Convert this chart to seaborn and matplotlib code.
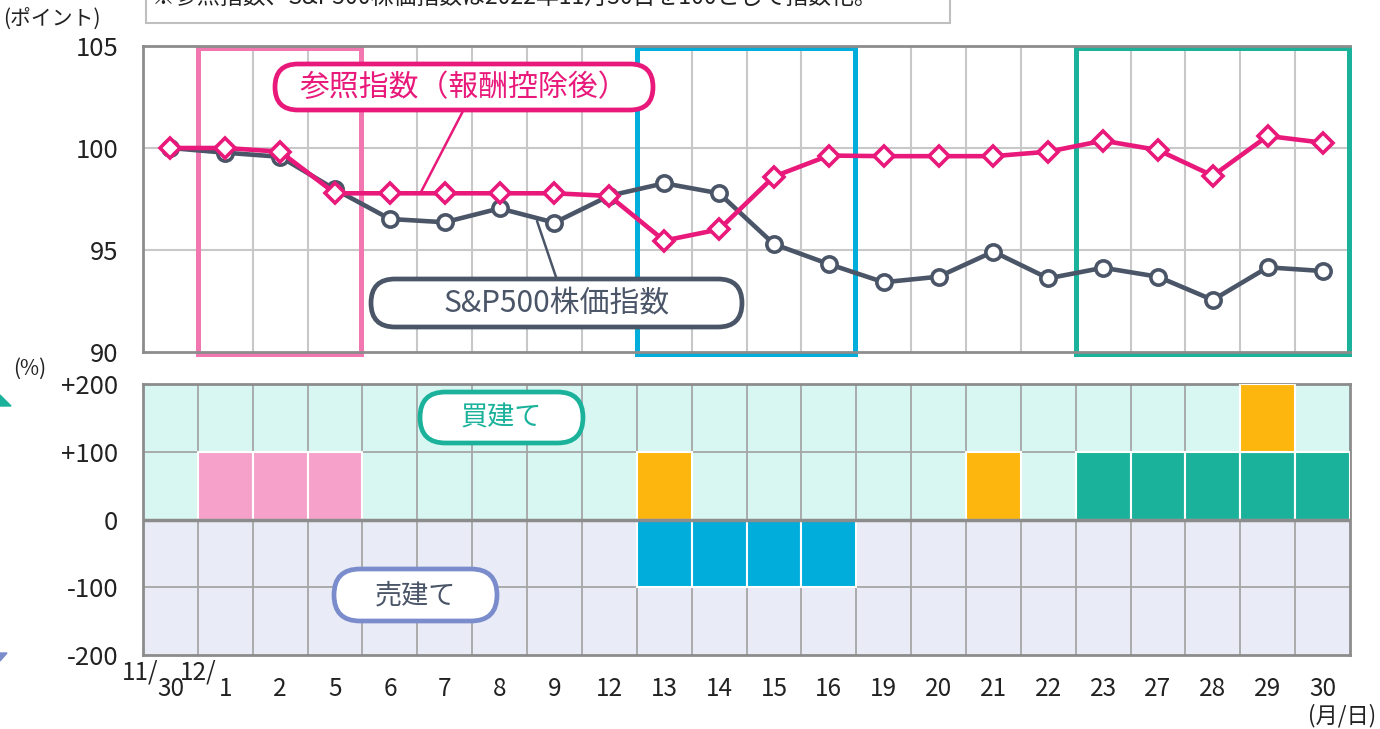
import numpy as np
import pandas as pd
import matplotlib
matplotlib.use("Agg")
import matplotlib.pyplot as plt
import seaborn as sns
from matplotlib.patches import FancyBboxPatch, Rectangle, Polygon

# ---------------- data ----------------
days = ['11/30', '12/1', '2', '5', '6', '7', '8', '9', '12', '13', '14', '15', '16',
        '19', '20', '21', '22', '23', '27', '28', '29', '30']
tick_labels = ['30', '1', '2', '5', '6', '7', '8', '9', '12', '13', '14', '15', '16',
               '19', '20', '21', '22', '23', '27', '28', '29', '30']
ref_index = [100.0, 100.0, 99.82, 97.78, 97.78, 97.78, 97.78, 97.78, 97.65, 95.46, 96.01,
             98.60, 99.63, 99.60, 99.60, 99.60, 99.82, 100.36, 99.90, 98.64, 100.59, 100.26]
sp500 = [100.0, 99.77, 99.57, 97.97, 96.52, 96.36, 97.04, 96.34, 97.66, 98.27, 97.78,
         95.29, 94.31, 93.42, 93.69, 94.92, 93.61, 94.13, 93.69, 92.55, 94.15, 93.97]
buy_pct = [0, 100, 100, 100, 0, 0, 0, 0, 0, 100, 0, 0, 0, 0, 0, 100, 0, 100, 100, 100, 200, 100]
sell_pct = [0, 0, 0, 0, 0, 0, 0, 0, 0, -100, -100, -100, -100, 0, 0, 0, 0, 0, 0, 0, 0, 0]
buy_unit1_group = ['', 'pink', 'pink', 'pink', '', '', '', '', '', 'orange', '', '', '', '', '',
                   'orange', '', 'teal', 'teal', 'teal', 'teal', 'teal']
buy_unit2_group = [''] * 20 + ['orange', '']
sell_group = ['blue' if v < 0 else '' for v in sell_pct]
periods = [(1, 3, 'frame_pink'), (9, 12, 'frame_blue'), (17, 21, 'frame_teal')]

label_ref = '参照指数（報酬控除後）'
label_sp = 'S&P500株価指数'
note = '※参照指数、S&P500株価指数は2022年11月30日を100として指数化。'

palette = {
    'pink': '#F6A1CA', 'orange': '#FDB60D', 'teal': '#1BB29C', 'blue': '#00ADDB',
    'frame_pink': '#F277B1', 'frame_blue': '#00ADDB', 'frame_teal': '#1BB29C',
}
PINK_LINE = '#E8197A'
GRAY_LINE = '#4B5568'
SELL_EDGE = '#7A8CCB'

# ---------------- style ----------------
sns.set_theme(style='white')
plt.rcParams['font.family'] = ['Noto Sans CJK JP', 'DejaVu Sans']
plt.rcParams['axes.unicode_minus'] = False
TXT = '#222222'

W, H = 1380, 729
fig = plt.figure(figsize=(W / 100, H / 100), dpi=100)


def frac(x0, y0, x1, y1):
    return [x0 / W, 1 - y1 / H, (x1 - x0) / W, (y1 - y0) / H]


ax1 = fig.add_axes(frac(143, 46, 1350, 352))
ax2 = fig.add_axes(frac(143, 384, 1350, 655))

x = np.arange(len(days))
df = pd.DataFrame({'x': x, 'ref': ref_index, 'sp': sp500})

# ---------------- top panel ----------------
for b in np.arange(0.5, len(days) - 0.5, 1):
    ax1.axvline(b, color='#C8C8C8', lw=1.5, zorder=0.5)
for yv in (95, 100):
    ax1.axhline(yv, color='#C8C8C8', lw=1.5, zorder=0.5)

for i0, i1, key in periods:
    ax1.add_patch(Rectangle((i0 - 0.5, 89.9), (i1 - i0) + 0.98, 15.0, fill=False,
                            edgecolor=palette[key], lw=3.6, zorder=2, clip_on=False))

sns.lineplot(data=df, x='x', y='sp', ax=ax1, color=GRAY_LINE, lw=3.3, marker='o',
             markersize=11, markerfacecolor='white', markeredgecolor=GRAY_LINE,
             markeredgewidth=2.6, zorder=3)
sns.lineplot(data=df, x='x', y='ref', ax=ax1, color=PINK_LINE, lw=3.3, marker='D',
             markersize=10.5, markerfacecolor='white', markeredgecolor=PINK_LINE,
             markeredgewidth=2.6, zorder=4)

ax1.set_xlim(-0.5, len(days) - 0.5)
ax1.set_ylim(90, 105)
ax1.set_yticks([90, 95, 100, 105])
ax1.set_yticklabels(['90', '95', '100', '105'])
ax1.set_xticks([])
ax1.set_xlabel('')
ax1.set_ylabel('')
ax1.tick_params(axis='y', length=0, pad=18, labelsize=18.5, labelcolor=TXT)
for s in ax1.spines.values():
    s.set_color('#8C8C8C')
    s.set_linewidth(2)
ax1.spines['right'].set_visible(False)

# ---------------- bottom panel ----------------
ax2.axhspan(0, 200, color='#D9F7F2', zorder=0)
ax2.axhspan(-200, 0, color='#E9ECF6', zorder=0)
for b in np.arange(0.5, len(days) - 0.5, 1):
    ax2.axvline(b, color='#A6A6A6', lw=1.3, zorder=1)
for yv in (100, -100):
    ax2.axhline(yv, color='#A6A6A6', lw=1.3, zorder=1)

for k, groups in ((1, buy_unit1_group), (2, buy_unit2_group)):
    idx = [i for i in range(len(days)) if buy_pct[i] >= 100 * k]
    ax2.bar(idx, [100] * len(idx), bottom=100 * (k - 1), width=1.0,
            color=[palette[groups[i]] for i in idx], edgecolor='white', lw=1.5, zorder=3)
idx = [i for i in range(len(days)) if sell_pct[i] < 0]
ax2.bar(idx, [sell_pct[i] for i in idx], width=1.0,
        color=[palette[sell_group[i]] for i in idx], edgecolor='white', lw=1.5, zorder=3)
ax2.axhline(0, color='#8C8C8C', lw=2.5, zorder=4)

ax2.set_xlim(-0.5, len(days) - 0.5)
ax2.set_ylim(-200, 200)
ax2.set_yticks([-200, -100, 0, 100, 200])
ax2.set_yticklabels(['-200', '-100', '0', '+100', '+200'])
ax2.set_xticks(x)
ax2.set_xticklabels(tick_labels)
ax2.tick_params(axis='y', length=0, pad=18, labelsize=18.5, labelcolor=TXT)
ax2.tick_params(axis='x', length=0, pad=15, labelsize=17.5, labelcolor=TXT)
for s in ax2.spines.values():
    s.set_color('#8C8C8C')
    s.set_linewidth(2)
    s.set_zorder(2.5)

# ---------------- overlay (annotations, pixel coords) ----------------
ov = fig.add_axes([0, 0, 1, 1], zorder=10)
ov.set_xlim(0, W)
ov.set_ylim(H, 0)
ov.axis('off')
ov.patch.set_alpha(0)


def pill(x0, y0, x1, y1, edge, text, tcolor, fs):
    h = y1 - y0
    ov.add_patch(FancyBboxPatch((x0, y0), x1 - x0, h,
                                boxstyle=f'round,pad=0,rounding_size={h / 2}',
                                facecolor='white', edgecolor=edge, lw=3.4))
    ov.text((x0 + x1) / 2, (y0 + y1) / 2 + 1, text, color=tcolor, fontsize=fs,
            ha='center', va='center')


ov.plot([463, 421], [111, 192], color=PINK_LINE, lw=1.8)
ov.plot([537, 556], [221, 277], color=GRAY_LINE, lw=1.8)
pill(275, 64, 653, 110, PINK_LINE, label_ref, PINK_LINE, 21.5)
pill(371, 279, 742, 327, GRAY_LINE, label_sp, GRAY_LINE, 21.5)
pill(420, 392, 583, 443, palette['teal'], '買建て', palette['teal'], 19.5)
pill(334, 569, 497, 621, SELL_EDGE, '売建て', GRAY_LINE, 19.5)

# note box at top (partly cut off, as in the reference)
ov.add_patch(Rectangle((146, -20), 804, 43, facecolor='white', edgecolor='#BFBFBF', lw=1.5))
ov.text(152, -3, note, fontsize=16.5, color=TXT, ha='left', va='center')

ov.text(52, 20, '(ポイント)', fontsize=15, color=TXT, ha='center', va='center')
ov.text(30, 369, '(%)', fontsize=15, color=TXT, ha='center', va='center')
ov.text(1342, 716, '(月/日)', fontsize=16, color=TXT, ha='center', va='center')
ov.text(158, 673, '11/', fontsize=17.5, color=TXT, ha='right', va='center')
ov.text(217, 673, '12/', fontsize=17.5, color=TXT, ha='right', va='center')

ov.add_patch(Polygon([(0, 395), (11, 406), (0, 406)], closed=True, color=palette['teal']))
ov.add_patch(Polygon([(0, 653), (7, 653), (0, 661)], closed=True, color=SELL_EDGE))

fig.savefig('out.png', dpi=100)
